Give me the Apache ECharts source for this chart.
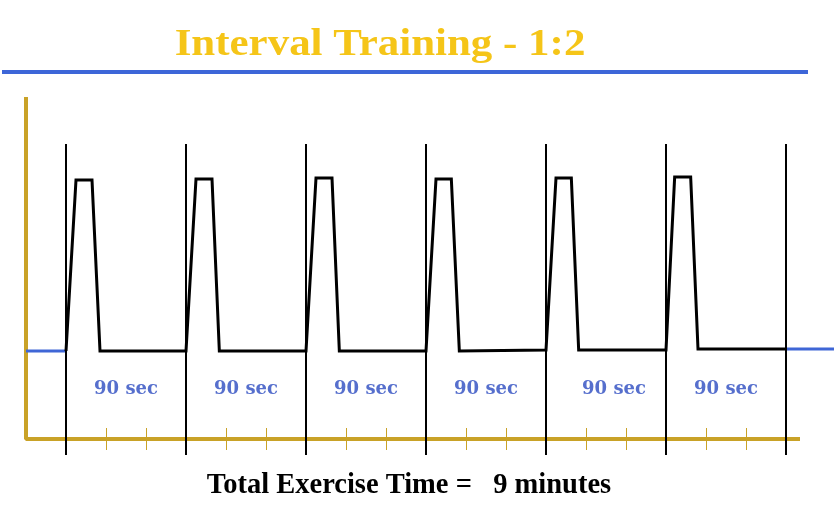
<!DOCTYPE html>
<html>
<head>
<meta charset="utf-8">
<script src="https://cdn.jsdelivr.net/npm/echarts@6/dist/echarts.min.js"></script>
<style>
  html, body { margin: 0; padding: 0; background: #fff; }
  #chart { width: 836px; height: 506px; }
</style>
</head>
<body>
<div id="chart"></div>
<script>
// time in seconds, intensity in arbitrary units (0 = baseline axis)
var boundaries = [0, 90, 180, 270, 360, 450, 540]
var minorTicks = [30, 60, 120, 150, 210, 240, 300, 330, 390, 420, 480, 510]
var profileT = [0, 7.5, 19.5, 25.5, 90, 97.5, 109.5, 115, 180, 187.5, 199.5, 205, 270, 277.5, 289, 295, 360, 367.5, 379, 384.5, 450, 456.5, 468.5, 474, 540]
var profileV = [88, 259, 259, 88, 88, 260, 260, 88, 88, 261, 261, 88, 88, 260, 260, 88, 89, 261, 261, 89, 89, 262, 262, 90, 90]
var warmupT = [-30, 0]
var warmupV = [88, 88]
var cooldownT = [540, 576]
var cooldownV = [90, 90]
var segmentLabels = ['90 sec', '90 sec', '90 sec', '90 sec', '90 sec', '90 sec']
var segmentLabelT = [45, 135, 225, 315, 411, 495]
var segmentLabelV = 50

function pairs(xs, ys) {
  return xs.map(function(x, i) { return [x, ys[i]] })
}

var chart = echarts.init(document.getElementById('chart'))
var gold = '#c9a227'
var blue = '#3f66d6'

chart.setOption({
  animation: false,
  backgroundColor: '#fff',
  grid: { left: 26, right: 2, top: 97, bottom: 51 },
  xAxis: {
    type: 'value', min: -30, max: 576,
    axisLine: { show: false }, axisTick: { show: false },
    axisLabel: { show: false }, splitLine: { show: false }
  },
  yAxis: {
    type: 'value', min: -16, max: 342,
    axisLine: { show: false }, axisTick: { show: false },
    axisLabel: { show: false }, splitLine: { show: false }
  },
  graphic: [
    {
      type: 'line', shape: { x1: 2, y1: 72, x2: 808, y2: 72 },
      style: { stroke: '#3d66d8', lineWidth: 4 }
    },
    {
      type: 'text', x: 380, y: 45, scaleX: 1.13, originX: 0,
      style: {
        text: 'Interval Training - 1:2', align: 'center', verticalAlign: 'middle',
        font: 'bold 38px "Liberation Serif"', fill: '#f5c518'
      }
    },
    {
      type: 'text', x: 409, y: 486,
      style: {
        text: 'Total Exercise Time =   9 minutes', align: 'center', verticalAlign: 'middle',
        font: 'bold 28.5px "Liberation Serif"', fill: '#000'
      }
    }
  ],
  series: [
    {
      // axes drawn in gold
      type: 'line', clip: false, symbol: 'none', silent: true,
      lineStyle: { color: gold, width: 4 },
      data: [[-30, 342], [-30, 0], [550.5, 0]],
      markLine: {
        silent: true, symbol: 'none', label: { show: false },
        lineStyle: { color: gold, width: 1, type: 'solid' },
        data: minorTicks.map(function(t) { return [{ coord: [t, -11] }, { coord: [t, 11] }] })
      },
      z: 2
    },
    {
      type: 'line', clip: false, symbol: 'none', silent: true,
      lineStyle: { color: blue, width: 3 },
      data: pairs(warmupT, warmupV), z: 3
    },
    {
      type: 'line', clip: false, symbol: 'none', silent: true,
      lineStyle: { color: blue, width: 3 },
      data: pairs(cooldownT, cooldownV), z: 3
    },
    {
      type: 'line', clip: false, symbol: 'none', silent: true,
      lineStyle: { color: '#000', width: 3, join: 'miter' },
      data: pairs(profileT, profileV),
      markLine: {
        silent: true, symbol: 'none', label: { show: false },
        lineStyle: { color: '#000', width: 2, type: 'solid' },
        data: boundaries.map(function(t) { return [{ coord: [t, -16] }, { coord: [t, 295] }] })
      },
      z: 4
    },
    {
      type: 'scatter', symbolSize: 0, silent: true,
      data: segmentLabelT.map(function(t, i) { return { value: [t, segmentLabelV], name: segmentLabels[i] } }),
      label: {
        show: true, position: 'inside', formatter: '{b}',
        color: '#2c4bc0', fontFamily: 'DejaVu Serif', fontWeight: 'bold', fontSize: 18
      }
    }
  ]
})
</script>
</body>
</html>
